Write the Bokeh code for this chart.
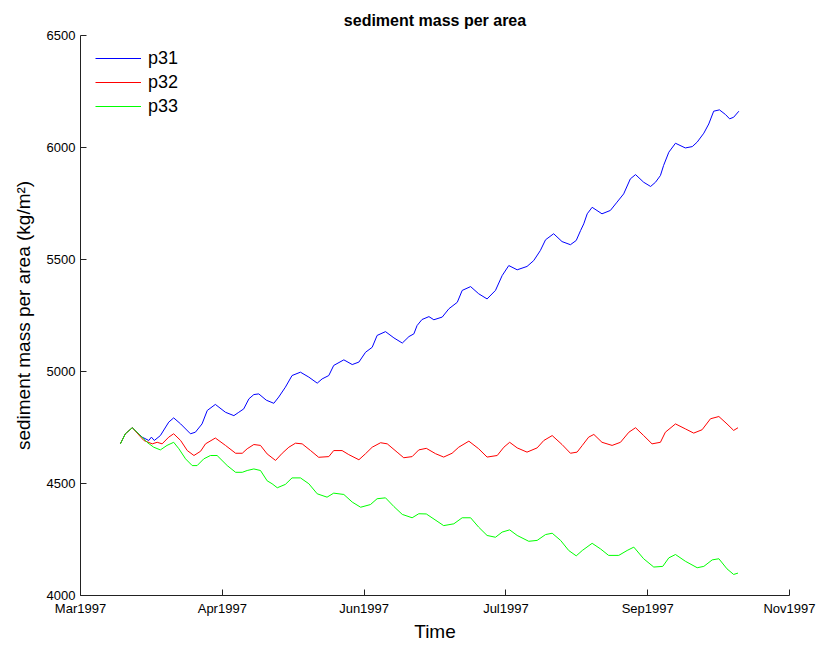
import pandas as pd
from bokeh.plotting import figure
from bokeh.models import FixedTicker, DatetimeTickFormatter, Range1d
from bokeh.embed import file_html
from bokeh.resources import INLINE

START = "1997-03-01"

# days after 1 Mar 1997, values in kg/m^2
p31_days = [13.8, 15.5, 17.9, 21.3, 23.6, 24.5, 25.5, 27.6, 30.5, 32.2, 34.6, 38.0, 39.7, 42.0, 43.8,
            46.6, 50.1, 53.0, 54.7, 56.4, 58.2, 59.9, 61.6, 64.2, 66.8, 68.5, 70.8, 73.1, 76.0, 78.9,
            81.8, 83.5, 85.8, 87.5, 91.0, 93.9, 96.2, 98.5, 100.8, 102.5, 105.4, 108.3, 111.2, 113.5,
            115.2, 116.3, 118.0, 120.4, 122.1, 125.0, 127.3, 130.2, 131.9, 134.8, 137.6, 140.5, 143.4,
            145.7, 148.0, 150.9, 154.3, 156.6, 158.9, 160.7, 163.5, 166.4, 169.3, 171.3, 172.8, 173.9,
            175.1, 176.8, 180.2, 183.1, 185.4, 187.7, 190.0, 191.8, 194.6, 197.0, 198.7, 200.4, 201.5,
            203.3, 205.6, 209.0, 211.4, 213.1, 215.4, 217.1, 218.8, 220.8, 222.9, 224.3, 225.7, 227.5]
p31_vals = [4678, 4722, 4749, 4707, 4692, 4707, 4692, 4714, 4774, 4793, 4766, 4722, 4729, 4766, 4826,
            4853, 4818, 4803, 4818, 4833, 4878, 4897, 4900, 4872, 4858, 4886, 4930, 4982, 4997, 4975,
            4948, 4967, 4982, 5027, 5052, 5031, 5042, 5086, 5108, 5161, 5178, 5150, 5127, 5156,
            5168, 5205, 5232, 5245, 5231, 5243, 5280, 5309, 5362, 5379, 5347, 5324, 5362,
            5428, 5473, 5454, 5469, 5495, 5540, 5588, 5615, 5580, 5566, 5585, 5629, 5659,
            5704, 5733, 5704, 5719, 5756, 5793, 5860, 5879, 5845, 5826, 5845, 5875, 5920,
            5979, 6019, 5998, 6004, 6024, 6064, 6105, 6162, 6168, 6147, 6128, 6135, 6162]

p32_days = [13.8, 15.5, 17.9, 21.9, 24.8, 26.5, 28.2, 30.5, 32.2, 34.6, 36.9, 39.2, 41.5, 43.2, 46.6,
            50.1, 53.6, 55.9, 57.6, 59.9, 62.2, 64.5, 67.4, 69.7, 72.0, 74.3, 76.6, 79.5, 82.3, 85.8,
            87.5, 90.4, 92.7, 96.2, 98.5, 100.8, 103.7, 106.0, 109.4, 111.7, 114.6, 116.9, 119.5,
            122.7, 125.5, 128.4, 130.7, 134.2, 137.6, 140.5, 144.0, 146.3, 148.3, 150.9, 154.3,
            157.8, 160.1, 163.0, 166.4, 169.3, 171.6, 173.4, 175.6, 177.4, 180.2, 183.7, 186.6,
            189.5, 191.8, 194.6, 197.5, 200.4, 202.1, 205.6, 209.0, 211.9, 214.8, 217.7, 220.6,
            223.4, 225.7, 227.2]
p32_vals = [4678, 4722, 4749, 4692, 4677, 4684, 4677, 4707, 4722, 4692, 4647, 4625, 4644, 4677, 4703,
            4670, 4635, 4635, 4655, 4674, 4670, 4632, 4603, 4635, 4662, 4680, 4677, 4647, 4617, 4620,
            4647, 4647, 4629, 4606, 4633, 4662, 4682, 4677, 4640, 4615, 4620, 4650, 4657,
            4633, 4618, 4635, 4662, 4689, 4655, 4618, 4625, 4662, 4684, 4659, 4640,
            4659, 4692, 4714, 4674, 4635, 4640, 4670, 4707, 4719, 4684, 4670, 4684,
            4729, 4749, 4714, 4677, 4684, 4729, 4766, 4744, 4725, 4740, 4789, 4799,
            4766, 4737, 4749]

p33_days = [13.8, 15.5, 17.9, 20.7, 23.0, 25.3, 27.6, 29.9, 32.2, 34.0, 36.3, 38.6, 40.3, 42.6, 44.9,
            47.2, 50.7, 53.6, 55.9, 57.6, 59.9, 62.2, 64.5, 66.2, 68.0, 70.8, 73.1, 76.0, 78.9, 81.8,
            85.2, 87.5, 91.0, 93.9, 96.8, 100.2, 102.5, 105.4, 108.3, 111.2, 114.6, 116.9, 119.5,
            123.2, 125.5, 129.0, 131.9, 134.8, 137.6, 140.5, 143.4, 145.7, 148.3, 150.9, 154.9,
            157.8, 160.7, 163.0, 165.9, 168.7, 171.3, 173.4, 176.8, 179.7, 182.5, 186.0, 188.9,
            191.2, 194.6, 198.1, 201.2, 203.3, 205.6, 209.0, 213.1, 215.4, 218.3, 220.6, 223.4,
            225.7, 227.2]
p33_vals = [4677, 4722, 4749, 4714, 4684, 4662, 4650, 4670, 4684, 4655, 4610, 4580, 4580, 4610, 4625,
            4625, 4580, 4550, 4550, 4558, 4565, 4558, 4512, 4499, 4481, 4496, 4525, 4525, 4499, 4454,
            4439, 4457, 4451, 4417, 4394, 4406, 4432, 4436, 4397, 4362, 4347, 4365, 4364,
            4332, 4312, 4320, 4347, 4347, 4305, 4268, 4260, 4283, 4293, 4268, 4242,
            4246, 4272, 4278, 4246, 4201, 4177, 4201, 4233, 4208, 4179, 4179, 4201,
            4216, 4164, 4127, 4130, 4168, 4183, 4153, 4124, 4130, 4159, 4164, 4119,
            4094, 4100]

x_tick_days = [0, 49, 98, 147, 196, 245]
y_ticks = [4000, 4500, 5000, 5500, 6000, 6500]

series = [("p31", p31_days, p31_vals, "#0000ff"),
          ("p32", p32_days, p32_vals, "#ff0000"),
          ("p33", p33_days, p33_vals, "#00ff00")]

t0 = pd.Timestamp(START)
def to_dt(days):
    return [t0 + pd.Timedelta(days=float(d)) for d in days]

def to_ms(d):
    return (t0 + pd.Timedelta(days=d)).value / 1e6

FONT = "Liberation Sans"

p = figure(x_axis_type="datetime", output_backend="svg", toolbar_location=None,
           width=822, height=644,
           min_border_left=80, min_border_right=33, min_border_top=35, min_border_bottom=49,
           title="sediment mass per area")
p.x_range = Range1d(to_ms(x_tick_days[0]), to_ms(x_tick_days[-1]))
p.y_range = Range1d(y_ticks[0], y_ticks[-1])

for name, d, v, c in series:
    p.line(to_dt(d), v, line_color=c, line_width=1, legend_label=name)

p.title.align = "center"
p.title.text_font = FONT
p.title.text_font_size = "16px"
p.title.text_font_style = "bold"
p.title.text_color = "#000000"
p.title.standoff = 13

p.xgrid.visible = False
p.ygrid.visible = False
p.outline_line_color = None

p.xaxis.ticker = FixedTicker(ticks=[to_ms(d) for d in x_tick_days])
fmt = "%b%Y"
p.xaxis.formatter = DatetimeTickFormatter(milliseconds=fmt, seconds=fmt, minsec=fmt, minutes=fmt,
                                          hourmin=fmt, hours=fmt, days=fmt, months=fmt, years=fmt)
p.yaxis.ticker = FixedTicker(ticks=y_ticks)

for ax in (p.xaxis[0], p.yaxis[0]):
    ax.major_tick_in = 6
    ax.major_tick_out = 0
    ax.minor_tick_in = 0
    ax.minor_tick_out = 0
    ax.major_label_text_font = FONT
    ax.major_label_text_font_size = "13px"
    ax.major_label_text_color = "#000000"
    ax.axis_line_color = "#222222"
    ax.major_tick_line_color = "#222222"
    ax.axis_label_text_font = FONT
    ax.axis_label_text_font_style = "normal"
    ax.axis_label_text_color = "#000000"
    ax.major_label_standoff = 5

p.xaxis.axis_label = "Time"
p.xaxis.axis_label_text_font_size = "19px"
p.xaxis.axis_label_standoff = 2
p.yaxis.axis_label = "sediment mass per area (kg/m\u00b2)"
p.yaxis.axis_label_text_font_size = "19px"
p.yaxis.axis_label_standoff = 10

p.legend.location = (15, 477)
p.legend.border_line_color = None
p.legend.background_fill_color = None
p.legend.label_text_font = FONT
p.legend.label_text_font_size = "18px"
p.legend.label_text_color = "#000000"
p.legend.glyph_width = 46
p.legend.label_height = 24
p.legend.glyph_height = 24
p.legend.spacing = 0
p.legend.margin = 0
p.legend.padding = 5
p.legend.label_standoff = 7

open("out.html", "w").write(file_html(p, INLINE))
